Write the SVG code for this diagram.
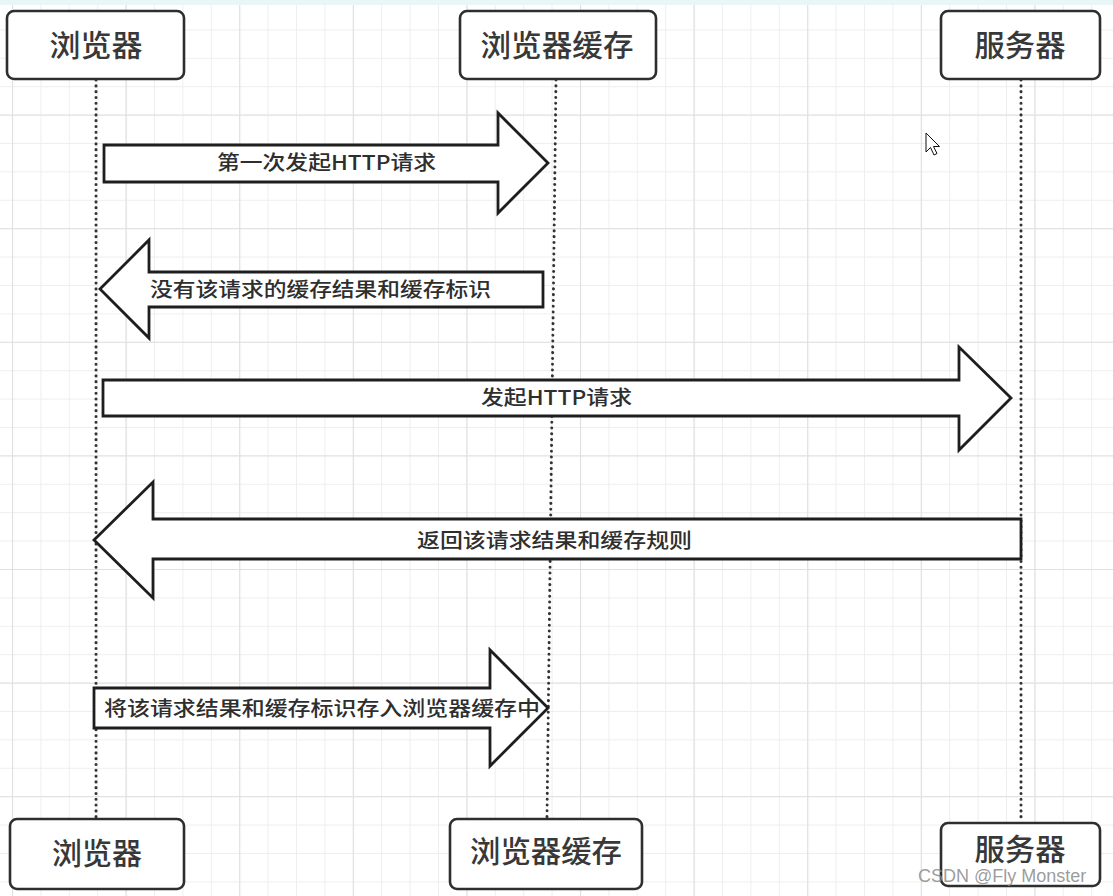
<svg xmlns="http://www.w3.org/2000/svg" width="1113" height="896" viewBox="0 0 1113 896">
  <defs>
    <pattern id="minor" patternUnits="userSpaceOnUse" x="12" y="1" width="28.4" height="28.4">
      <path d="M0.5 0 V28.4 M0 0.5 H28.4" stroke="#eeeeee" stroke-width="1" fill="none"/>
    </pattern>
    <pattern id="major" patternUnits="userSpaceOnUse" x="12" y="1" width="113.6" height="113.6">
      <path d="M0.5 0 V113.6 M0 0.5 H113.6" stroke="#e0e0e0" stroke-width="1.2" fill="none"/>
    </pattern>
    <style>
      .box { fill: #ffffff; stroke: #2e2e2e; stroke-width: 2.6; }
      .blabel { font-family: "Noto Sans CJK SC", "Noto Sans", sans-serif; font-size: 30px; font-weight: 500; fill: #383838; text-anchor: middle; }
      .life { stroke: #333333; stroke-width: 3; stroke-dasharray: 0.1 5.7; stroke-linecap: round; fill: none; }
      .fat { fill: #ffffff; stroke: #1e1e1e; stroke-width: 2.8; stroke-linejoin: miter; }
      .alabel { font-family: "Noto Sans CJK SC", "Noto Sans", sans-serif; font-size: 20px; font-weight: 500; fill: #2e2e2e; }
    </style>
  </defs>
  <rect x="0" y="0" width="1113" height="896" fill="#ffffff"/>
  <rect x="0" y="0" width="1113" height="896" fill="url(#minor)"/>
  <rect x="0" y="0" width="1113" height="896" fill="url(#major)"/>
  <rect x="0" y="0" width="1113" height="5" fill="#e8f6f8"/>

  <g id="connectors">
    <line class="life" x1="96" y1="80" x2="96" y2="818"/>
    <line class="life" x1="556" y1="80" x2="547" y2="818"/>
    <line class="life" x1="1021" y1="80" x2="1021" y2="822"/>

    <g id="arrow1">
      <polygon class="fat" points="104,145 498,145 498,113 548,163 498,213 498,182 104,182"/>
      <text class="alabel" x="217" y="170" textLength="219" lengthAdjust="spacingAndGlyphs">第一次发起HTTP请求</text>
    </g>
    <g id="arrow2">
      <polygon class="fat" points="543,272 149,272 149,240 100,289 149,338 149,307 543,307"/>
      <text class="alabel" x="150" y="297" textLength="341" lengthAdjust="spacingAndGlyphs">没有该请求的缓存结果和缓存标识</text>
    </g>
    <g id="arrow3">
      <polygon class="fat" points="103,380 959,380 959,347 1011,398 959,450 959,416 103,416"/>
      <text class="alabel" x="481" y="405" textLength="151" lengthAdjust="spacingAndGlyphs">发起HTTP请求</text>
    </g>
    <g id="arrow4">
      <polygon class="fat" points="1021,519 153,519 153,482 94,540 153,598 153,559 1021,559"/>
      <text class="alabel" x="417" y="548" textLength="275" lengthAdjust="spacingAndGlyphs">返回该请求结果和缓存规则</text>
    </g>
    <g id="arrow5">
      <polygon class="fat" points="94,688 490,688 490,650 548,708 490,766 490,728 94,728"/>
      <text class="alabel" x="104" y="716" textLength="436" lengthAdjust="spacingAndGlyphs">将该请求结果和缓存标识存入浏览器缓存中</text>
    </g>
  </g>

  <g id="browser-top">
    <rect class="box" x="7" y="11" width="177" height="68" rx="7"/>
    <text class="blabel" x="96" y="56" textLength="93" lengthAdjust="spacingAndGlyphs">浏览器</text>
  </g>
  <g id="cache-top">
    <rect class="box" x="460" y="11" width="196" height="68" rx="7"/>
    <text class="blabel" x="557" y="56" textLength="153" lengthAdjust="spacingAndGlyphs">浏览器缓存</text>
  </g>
  <g id="server-top">
    <rect class="box" x="941" y="11" width="159" height="68" rx="7"/>
    <text class="blabel" x="1020" y="56" textLength="91" lengthAdjust="spacingAndGlyphs">服务器</text>
  </g>

  <g id="browser-bottom">
    <rect class="box" x="10" y="819" width="174" height="70" rx="7"/>
    <text class="blabel" x="97" y="864" textLength="90" lengthAdjust="spacingAndGlyphs">浏览器</text>
  </g>
  <g id="cache-bottom">
    <rect class="box" x="450" y="819" width="192" height="70" rx="7"/>
    <text class="blabel" x="546" y="862" textLength="152" lengthAdjust="spacingAndGlyphs">浏览器缓存</text>
  </g>
  <g id="server-bottom">
    <rect class="box" x="941" y="823" width="159" height="63" rx="7"/>
    <text class="blabel" x="1020" y="860" textLength="91" lengthAdjust="spacingAndGlyphs">服务器</text>
  </g>

  <polygon points="926,133 926,152 930.5,147.5 934,155 937,153.5 933.5,146.5 939.5,146.5" fill="#ffffff" stroke="#111111" stroke-width="1"/>
  <text x="918" y="882" font-family="Liberation Sans, Arial, sans-serif" font-size="18" fill="#8a8a8a" fill-opacity="0.85">CSDN @Fly Monster</text>
</svg>
